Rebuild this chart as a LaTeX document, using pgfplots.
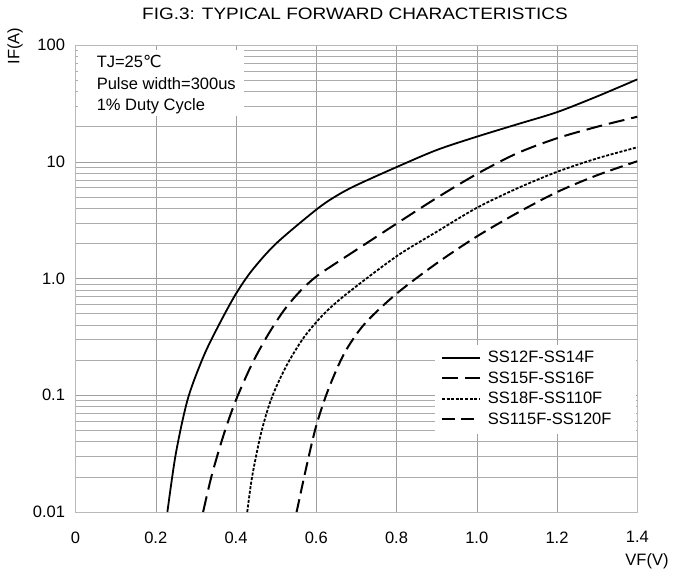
\documentclass[border=0pt]{standalone}
\usepackage{fontspec}
\setmainfont{Liberation Sans}
\newfontfamily\dejavu{DejaVu Sans}
\usepackage{graphicx}
\usepackage{pgfplots}
\pgfplotsset{compat=1.18}
\newcommand{\fs}{\fontsize{16.5}{19}\selectfont}
\begin{document}
\begin{tikzpicture}
\useasboundingbox (-75.5pt,-61pt) rectangle (597.5pt,512pt);
\begin{axis}[
  at={(0,0)}, anchor=south west,
  scale only axis, width=561.8pt, height=467pt,
  ymode=log, xmin=0, xmax=1.4, ymin=0.01, ymax=100,
  xtick={0,0.2,0.4,0.6,0.8,1.0,1.2,1.4},
  xticklabels={0,0.2,0.4,0.6,0.8,1.0,1.2,1.4},
  ytick={0.01,0.1,1,10,100},
  yticklabels={0.01,0.1,1.0,10,100},
  minor ytick={0.02,0.03,0.04,0.05,0.06,0.07,0.08,0.09,0.2,0.3,0.4,0.5,0.6,0.7,0.8,0.9,2,3,4,5,6,7,8,9,20,30,40,50,60,70,80,90},
  xmajorgrids, ymajorgrids, yminorgrids,
  major grid style={gray!75, line width=0.5pt},
  minor grid style={gray!65, line width=0.5pt},
  major tick length=0pt, minor tick length=0pt,
  axis line style={gray!55, line width=0.9pt},
  /pgf/number format/assume math mode=true,
  tick label style={font=\fs},
  xticklabel style={yshift=-16pt},
  yticklabel style={xshift=-7pt},
  legend style={at={(rel axis cs:0.643,0.355)}, anchor=north west, draw=none, fill=none, font=\fs, row sep=3.5pt, inner xsep=4pt, inner ysep=3pt,
    /tikz/every odd column/.append style={column sep=5pt}},
  legend cell align=left,
  legend image code/.code={\draw[#1] (0pt,0pt) -- (38pt,0pt);},
]
\fill[white] (rel axis cs:0.0045,0.848) rectangle (rel axis cs:0.3,0.989);
\fill[white] (rel axis cs:0.64,0.167) rectangle (rel axis cs:0.998,0.358);
\node[anchor=north west, align=left, font=\fontsize{16.5}{21.5}\selectfont, inner sep=0pt] at (rel axis cs:0.0375,0.978)
  {TJ=25{\dejavu ℃}\\Pulse width=300us\\1\% Duty Cycle};

\addplot[black, line width=1.8pt, smooth] coordinates {
(0.229,0.01) (0.25,0.0316) (0.28,0.0933) (0.32,0.219) (0.36,0.417) (0.40,0.741)
(0.44,1.175) (0.50,1.995) (0.60,3.89) (0.65,5.1) (0.70,6.3) (0.80,9.0) (0.90,12.6) (1.0,16.4)
(1.1,20.9) (1.2,26.6) (1.3,36.3) (1.4,50.8)};
\addlegendentry{SS12F-SS14F}

\addplot[black, line width=2pt, smooth, dash pattern=on 16pt off 7pt] coordinates {
(0.318,0.01) (0.34,0.0209) (0.37,0.0468) (0.40,0.0912) (0.44,0.186) (0.48,0.331)
(0.52,0.537) (0.56,0.78) (0.60,1.04) (0.65,1.36) (0.70,1.76) (0.80,2.95) (0.90,4.898) (1.0,7.85)
(1.1,11.8) (1.2,15.9) (1.3,19.95) (1.4,24.3)};
\addlegendentry{SS15F-SS16F}

\addplot[black, line width=1.8pt, smooth, dash pattern=on 3pt off 1.6pt] coordinates {
(0.428,0.01) (0.44,0.01995) (0.46,0.0437) (0.48,0.0776) (0.50,0.1175) (0.53,0.1905)
(0.57,0.316) (0.62,0.501) (0.68,0.759) (0.80,1.549) (0.90,2.512) (1.0,4.03) (1.1,5.90)
(1.2,8.20) (1.3,10.69) (1.4,13.3)};
\addlegendentry{SS18F-SS110F}

\addplot[black, line width=2pt, smooth, dash pattern=on 13pt off 6pt] coordinates {
(0.551,0.01) (0.575,0.024) (0.60,0.055) (0.63,0.112) (0.67,0.229) (0.72,0.407)
(0.80,0.741) (0.90,1.349) (1.0,2.29) (1.1,3.63) (1.2,5.50) (1.3,7.67) (1.4,10.1)};
\addlegendentry{SS115F-SS120F}
\end{axis}
\node[rotate=90, font=\fs] at (-60.5pt,466pt) {IF(A)};
\node[font=\fs] at (571.5pt,-49pt) {VF(V)};
\node[font=\fs] at (279.5pt,498pt) {\scalebox{1.15}[1]{FIG.3: TYPICAL FORWARD CHARACTERISTICS}};
\end{tikzpicture}
\end{document}
